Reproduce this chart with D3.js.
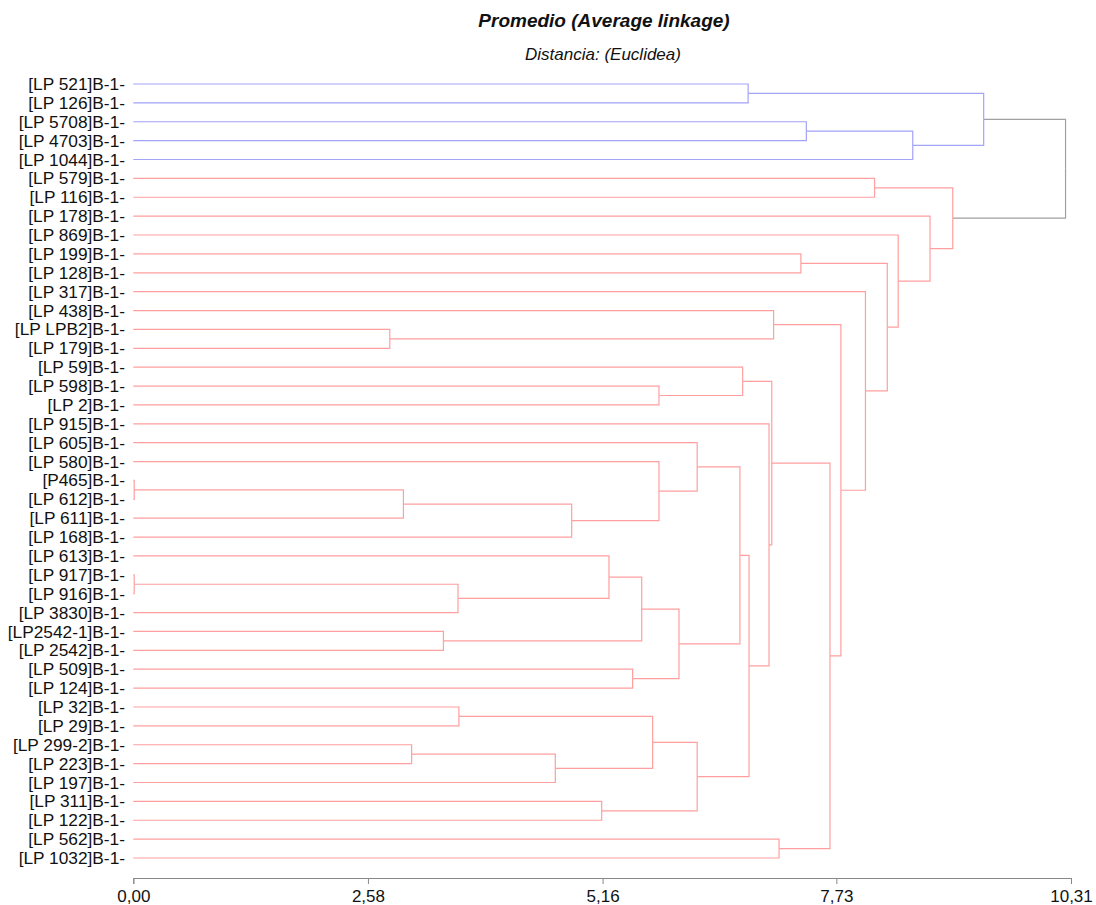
<!DOCTYPE html>
<html>
<head>
<meta charset="utf-8">
<script src="https://cdn.jsdelivr.net/npm/d3@7"></script>
<style>
    body { margin: 0; background: #fff; }
    text { font-family: "Liberation Sans", Arial, sans-serif; fill: #111; }
</style>
</head>
<body>
<div id="Dendrogram"></div>
<script>

// leaves, top to bottom
var labels = [
    "[LP 521]B-1-", "[LP 126]B-1-", "[LP 5708]B-1-", "[LP 4703]B-1-", "[LP 1044]B-1-",
    "[LP 579]B-1-", "[LP 116]B-1-", "[LP 178]B-1-", "[LP 869]B-1-", "[LP 199]B-1-",
    "[LP 128]B-1-", "[LP 317]B-1-", "[LP 438]B-1-", "[LP LPB2]B-1-", "[LP 179]B-1-",
    "[LP 59]B-1-", "[LP 598]B-1-", "[LP 2]B-1-", "[LP 915]B-1-", "[LP 605]B-1-",
    "[LP 580]B-1-", "[P465]B-1-", "[LP 612]B-1-", "[LP 611]B-1-", "[LP 168]B-1-",
    "[LP 613]B-1-", "[LP 917]B-1-", "[LP 916]B-1-", "[LP 3830]B-1-", "[LP2542-1]B-1-",
    "[LP 2542]B-1-", "[LP 509]B-1-", "[LP 124]B-1-", "[LP 32]B-1-", "[LP 29]B-1-",
    "[LP 299-2]B-1-", "[LP 223]B-1-", "[LP 197]B-1-", "[LP 311]B-1-", "[LP 122]B-1-",
    "[LP 562]B-1-", "[LP 1032]B-1-"
];

// merges: [upper child, lower child, distance]; a number points to an earlier merge
var merges = [
    ["[P465]B-1-", "[LP 612]B-1-", 0.01],      // 0
    ["[LP 917]B-1-", "[LP 916]B-1-", 0.01],    // 1
    ["[LP LPB2]B-1-", "[LP 179]B-1-", 2.82],   // 2
    [0, "[LP 611]B-1-", 2.97],                 // 3
    ["[LP 299-2]B-1-", "[LP 223]B-1-", 3.06],  // 4
    ["[LP2542-1]B-1-", "[LP 2542]B-1-", 3.41], // 5
    [1, "[LP 3830]B-1-", 3.57],                // 6
    ["[LP 32]B-1-", "[LP 29]B-1-", 3.58],      // 7
    [4, "[LP 197]B-1-", 4.64],                 // 8
    [3, "[LP 168]B-1-", 4.82],                 // 9
    ["[LP 311]B-1-", "[LP 122]B-1-", 5.15],    // 10
    ["[LP 613]B-1-", 6, 5.23],                 // 11
    ["[LP 509]B-1-", "[LP 124]B-1-", 5.49],    // 12
    [11, 5, 5.59],                             // 13
    [7, 8, 5.71],                              // 14
    ["[LP 580]B-1-", 9, 5.78],                 // 15
    ["[LP 598]B-1-", "[LP 2]B-1-", 5.78],      // 16
    [13, 12, 6.00],                            // 17
    ["[LP 605]B-1-", 15, 6.20],                // 18
    [14, 10, 6.20],                            // 19
    [18, 17, 6.67],                            // 20
    ["[LP 59]B-1-", 16, 6.70],                 // 21
    ["[LP 521]B-1-", "[LP 126]B-1-", 6.76],    // 22
    [20, 19, 6.77],                            // 23
    ["[LP 915]B-1-", 23, 6.99],                // 24
    [21, 24, 7.02],                            // 25
    ["[LP 438]B-1-", 2, 7.04],                 // 26
    ["[LP 562]B-1-", "[LP 1032]B-1-", 7.10],   // 27
    ["[LP 199]B-1-", "[LP 128]B-1-", 7.34],    // 28
    ["[LP 5708]B-1-", "[LP 4703]B-1-", 7.40],  // 29
    [25, 27, 7.66],                            // 30
    [26, 30, 7.78],                            // 31
    ["[LP 317]B-1-", 31, 8.05],                // 32
    ["[LP 579]B-1-", "[LP 116]B-1-", 8.15],    // 33
    [28, 32, 8.29],                            // 34
    ["[LP 869]B-1-", 34, 8.41],                // 35
    [29, "[LP 1044]B-1-", 8.57],               // 36
    ["[LP 178]B-1-", 35, 8.76],                // 37
    [33, 37, 9.01],                            // 38
    [22, 36, 9.35],                            // 39
    [39, 38, 10.25]                            // 40
];

var tickValues = [0, 2.58, 5.16, 7.73, 10.31];
var clusterColors = ["#a3a3f7", "#ff9f9f"];
var rootColor = "#a0a0a0";

var width = 1096, height = 905;

var svg = d3.select("#Dendrogram")
    .append("svg")
    .attr("width", width)
    .attr("height", height);

// scales
var x = d3.scaleLinear()
    .domain([0, 10.31])
    .range([133.3, 1071]);
var y = d3.scalePoint()
    .domain(labels)
    .range([84, 858]);

// build the tree from the merge list
function toNode(ref) {
    if (typeof ref === "string") return {name: ref, dist: 0};
    var m = merges[ref];
    return {dist: m[2], children: [toNode(m[0]), toNode(m[1])]};
}
var root = d3.hierarchy(toNode(merges.length - 1));

root.eachAfter(function(d) {
    d.px = x(d.data.dist);
    d.py = d.children ? d3.mean(d.children, function(c) { return c.py; }) : y(d.data.name);
});
// colour by the top level branch
root.children.forEach(function(c, i) {
    c.each(function(d) { d.color = clusterColors[i]; });
});
root.color = rootColor;

// elbows: child -> parent (leaves start at 0)
var g = svg.append("g")
    .attr("fill", "none")
    .attr("stroke-width", 1.2);
g.selectAll("path.link")
    .data(root.descendants().filter(function(d) { return d.parent; }))
    .enter()
    .append("path")
    .attr("class", "link")
    .attr("stroke", function(d) { return d.parent === root ? rootColor : d.color; })
    .attr("d", function(d) {
        return "M" + d.px + "," + d.py + "H" + d.parent.px + "V" + d.parent.py;
    });

// leaf labels
svg.selectAll("text.leaf")
    .data(labels)
    .enter()
    .append("text")
    .attr("class", "leaf")
    .attr("x", 125)
    .attr("y", function(d) { return y(d); })
    .attr("dy", "0.35em")
    .attr("text-anchor", "end")
    .style("font-size", "17.3px")
    .text(function(d) { return d; });

// x axis
var axis = svg.append("g")
    .attr("transform", "translate(0,878)")
    .call(d3.axisBottom(x)
        .tickValues(tickValues)
        .tickSizeOuter(0)
        .tickSize(6)
        .tickFormat(function(d) { return d3.format(".2f")(d).replace(".", ","); }));
axis.select(".domain").attr("stroke", "#888");
axis.selectAll(".tick line").attr("stroke", "#888");
axis.selectAll(".tick text")
    .attr("y", 12)
    .style("font-size", "17px")
    .style("font-family", "Liberation Sans, Arial, sans-serif")
    .attr("fill", "#111");

// titles
svg.append("text")
    .attr("x", 604)
    .attr("y", 27)
    .attr("text-anchor", "middle")
    .style("font-size", "19px")
    .style("font-weight", "bold")
    .style("font-style", "italic")
    .text("Promedio (Average linkage)");
svg.append("text")
    .attr("x", 603)
    .attr("y", 60)
    .attr("text-anchor", "middle")
    .style("font-size", "17px")
    .style("font-style", "italic")
    .text("Distancia: (Euclidea)");

</script>
</body>
</html>
